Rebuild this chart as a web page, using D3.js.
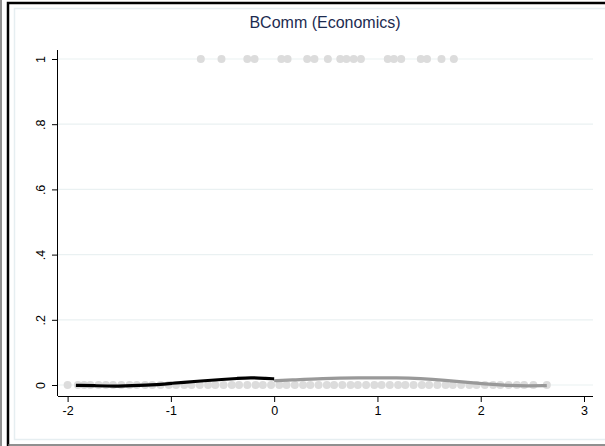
<!DOCTYPE html>
<html>
<head>
<meta charset="utf-8">
<script src="https://cdn.jsdelivr.net/npm/d3@7/dist/d3.min.js"></script>
<style>
  html, body { margin: 0; padding: 0; background: #fff; }
  svg { display: block; }
</style>
</head>
<body>
<svg id="chart" width="605" height="446"></svg>
<script>
// Chart text and axis ticks
const title = "BComm (Economics)";
const xTicks = [-2, -1, 0, 1, 2, 3];
const xTickLabels = ["-2", "-1", "0", "1", "2", "3"];
const yTicks = [0, 0.2, 0.4, 0.6, 0.8, 1];
const yTickLabels = ["0", ".2", ".4", ".6", ".8", "1"];

// Observed outcomes equal to 1 (score positions)
const onesX = [-0.71, -0.51, -0.26, -0.19, 0.07, 0.13, 0.32, 0.39, 0.52, 0.64,
               0.70, 0.77, 0.84, 1.10, 1.16, 1.23, 1.42, 1.48, 1.62, 1.74];

// Observed outcomes equal to 0 (score positions)
const zerosX = [-2.00, -1.90, -1.84, -1.78, -1.70, -1.63, -1.56, -1.48, -1.40, -1.33,
                -1.25, -1.18, -1.10, -1.02, -0.95, -0.87, -0.80, -0.72, -0.64, -0.57,
                -0.49, -0.41, -0.34, -0.26, -0.18, -0.11, -0.03, 0.05, 0.12, 0.20,
                0.28, 0.35, 0.43, 0.51, 0.58, 0.66, 0.74, 0.81, 0.89, 0.97,
                1.04, 1.12, 1.20, 1.27, 1.35, 1.43, 1.50, 1.58, 1.66, 1.73,
                1.81, 1.89, 1.96, 2.04, 2.12, 2.19, 2.27, 2.35, 2.42, 2.51, 2.64];

// Smoothed fit below the cutoff
const fitLeftX = [-1.92, -1.75, -1.52, -1.23, -1.00, -0.69, -0.50, -0.36, -0.23, -0.07, 0.00];
const fitLeftY = [-0.001, -0.002, -0.004, -0.001, 0.005, 0.013, 0.017, 0.020, 0.023, 0.020, 0.019];

// Smoothed fit above the cutoff
const fitRightX = [0.00, 0.15, 0.47, 0.80, 1.22, 1.41, 1.64, 1.96, 2.28, 2.45, 2.64];
const fitRightY = [0.013, 0.015, 0.020, 0.022, 0.022, 0.020, 0.015, 0.005, -0.002, -0.003, -0.002];

const svg = d3.select("#chart");
const font = "Liberation Sans, Arial, sans-serif";

// Outer frames
svg.append("line").attr("x1", 1).attr("x2", 1).attr("y1", 0).attr("y2", 446)
  .attr("stroke", "#6b6b6b").attr("stroke-width", 1.5);
svg.append("path").attr("d", "M8,446 L8,3 L605,3")
  .attr("fill", "none").attr("stroke", "#000").attr("stroke-width", 2.5);
svg.append("line").attr("x1", 8).attr("x2", 605).attr("y1", 445).attr("y2", 445)
  .attr("stroke", "#6b6b6b").attr("stroke-width", 1.5);
svg.append("path").attr("d", "M605,8.5 L14.5,8.5 L14.5,439.5 L605,439.5")
  .attr("fill", "none").attr("stroke", "#e6eef1").attr("stroke-width", 1.5);

// Scales
const x = d3.scaleLinear().domain([-2, 3]).range([67.6, 584]);
const y = d3.scaleLinear().domain([0, 1]).range([385, 59]);
const plotLeft = 58, plotRight = 593, plotBottom = 396, plotTop = 50;

// Gridlines
svg.append("g").selectAll("line").data(yTicks).join("line")
  .attr("x1", plotLeft).attr("x2", plotRight)
  .attr("y1", d => y(d)).attr("y2", d => y(d))
  .attr("stroke", "#eaf1f2").attr("stroke-width", 1.2);

// Axes
const xAxis = d3.axisBottom(x).tickValues(xTicks).tickSize(6).tickPadding(4)
  .tickFormat((d, i) => xTickLabels[i]);
const gx = svg.append("g").attr("transform", `translate(0,${plotBottom})`).call(xAxis);
gx.select(".domain").attr("d", `M${plotLeft},0.5H${plotRight}`);
gx.selectAll("text").attr("font-family", font)
  .attr("font-size", 12.5).attr("fill", "#000");

const yAxis = d3.axisLeft(y).tickValues(yTicks).tickSize(6).tickPadding(4)
  .tickFormat((d, i) => yTickLabels[i]);
const gy = svg.append("g").attr("transform", `translate(${plotLeft},0)`).call(yAxis);
gy.select(".domain").attr("d", `M-0.5,${plotTop}V${plotBottom}`);
gy.selectAll("text")
  .attr("font-family", font)
  .attr("font-size", 12.5).attr("fill", "#000")
  .attr("text-anchor", "middle")
  .attr("x", 0).attr("y", 0).attr("dy", 0)
  .attr("dominant-baseline", "central")
  .attr("transform", "translate(-17,0) rotate(-90)");

// Observed points
const pts = svg.append("g").attr("fill", "#dcdcdc");
pts.selectAll("circle.one").data(onesX).join("circle").attr("class", "one")
  .attr("cx", d => x(d)).attr("cy", y(1)).attr("r", 4);
pts.selectAll("circle.zero").data(zerosX).join("circle").attr("class", "zero")
  .attr("cx", d => x(d)).attr("cy", y(0)).attr("r", 4);

// Fitted lines
const line = d3.line().x(d => x(d[0])).y(d => y(d[1])).curve(d3.curveBasis);
svg.append("path").datum(d3.zip(fitRightX, fitRightY)).attr("d", line)
  .attr("fill", "none").attr("stroke", "#999").attr("stroke-width", 3.2);
svg.append("path").datum(d3.zip(fitLeftX, fitLeftY)).attr("d", line)
  .attr("fill", "none").attr("stroke", "#000").attr("stroke-width", 3.2);

// Title
svg.append("text").attr("x", 325).attr("y", 28).attr("text-anchor", "middle")
  .attr("font-family", font).attr("font-size", 16)
  .attr("fill", "#1c2b50").text(title);
</script>
</body>
</html>
